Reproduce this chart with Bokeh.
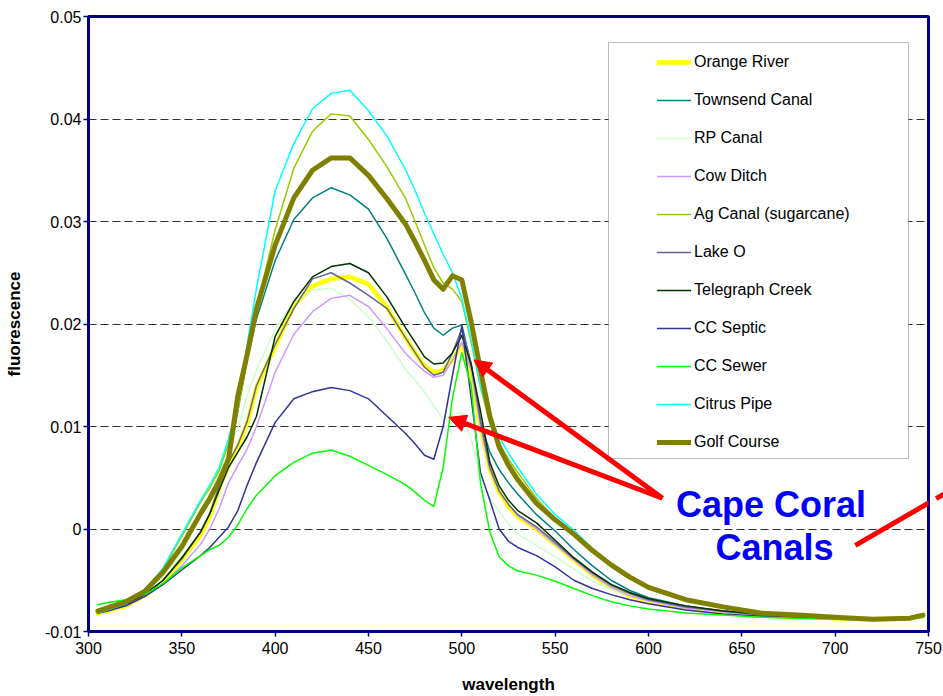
from bokeh.plotting import figure
from bokeh.models import (Legend, LegendItem, BoxAnnotation, Label, Arrow, NormalHead,
                          FixedTicker, Range1d)
from bokeh.embed import file_html
from bokeh.resources import INLINE

# ---------------- data ----------------
wavelength = [305, 310, 320, 330, 340, 350, 360, 365, 370, 375, 380, 385, 390, 400, 410, 420,
              430, 440, 450, 460, 470, 475, 480, 485, 490, 495, 500, 505, 510, 515, 520, 525,
              530, 540, 550, 560, 570, 580, 590, 600, 620, 640, 660, 680, 700, 720, 740, 747]

orange_river = [-0.0082, -0.0080, -0.0075, -0.0065, -0.0052, -0.0030, -0.0006, 0.0012, 0.0040, 0.0062,
                0.0080, 0.0103, 0.0138, 0.0178, 0.0218, 0.0237, 0.0244, 0.0246, 0.0239, 0.0216,
                0.0186, 0.0172, 0.0159, 0.0153, 0.0155, 0.0165, 0.0180, 0.0152, 0.0100, 0.0058,
                0.0036, 0.0022, 0.0012, 0.0000, -0.0015, -0.0030, -0.0045, -0.0057, -0.0065, -0.0070,
                -0.0077, -0.0081, -0.0084, -0.0086, -0.0087, -0.0088, -0.0087, -0.0085]

townsend_canal = [-0.0081, -0.0078, -0.0072, -0.0062, -0.0045, -0.0020, 0.0012, 0.0027, 0.0043, 0.0065,
                  0.0115, 0.0165, 0.0205, 0.0262, 0.0302, 0.0323, 0.0333, 0.0326, 0.0312, 0.0283,
                  0.0248, 0.0230, 0.0211, 0.0196, 0.0189, 0.0196, 0.0199, 0.0160, 0.0105, 0.0075,
                  0.0058, 0.0045, 0.0034, 0.0014, -0.0002, -0.0020, -0.0036, -0.0050, -0.0060, -0.0067,
                  -0.0075, -0.0080, -0.0083, -0.0085, -0.0087, -0.0088, -0.0087, -0.0085]

rp_canal = [-0.0081, -0.0079, -0.0073, -0.0062, -0.0046, -0.0022, 0.0012, 0.0032, 0.0055, 0.0075,
            0.0098, 0.0130, 0.0155, 0.0195, 0.0222, 0.0233, 0.0235, 0.0224, 0.0207, 0.0183,
            0.0155, 0.0145, 0.0134, 0.0120, 0.0107, 0.0111, 0.0114, 0.0087, 0.0052, 0.0030,
            0.0017, 0.0005, -0.0005, -0.0016, -0.0027, -0.0039, -0.0051, -0.0059, -0.0065, -0.0070,
            -0.0077, -0.0081, -0.0084, -0.0086, -0.0087, -0.0088, -0.0087, -0.0085]

cow_ditch = [-0.0082, -0.0080, -0.0075, -0.0066, -0.0054, -0.0036, -0.0015, 0.0000, 0.0020, 0.0045,
             0.0062, 0.0078, 0.0100, 0.0153, 0.0190, 0.0212, 0.0225, 0.0228, 0.0217, 0.0195,
             0.0171, 0.0162, 0.0154, 0.0148, 0.0150, 0.0165, 0.0182, 0.0155, 0.0100, 0.0058,
             0.0037, 0.0024, 0.0013, 0.0000, -0.0015, -0.0030, -0.0045, -0.0057, -0.0065, -0.0070,
             -0.0077, -0.0081, -0.0084, -0.0086, -0.0087, -0.0088, -0.0087, -0.0085]

ag_canal = [-0.0081, -0.0078, -0.0072, -0.0061, -0.0040, -0.0007, 0.0026, 0.0040, 0.0057, 0.0083,
            0.0115, 0.0165, 0.0215, 0.0292, 0.0352, 0.0388, 0.0405, 0.0403, 0.0380, 0.0353,
            0.0322, 0.0300, 0.0277, 0.0255, 0.0240, 0.0234, 0.0222, 0.0182, 0.0138, 0.0103,
            0.0084, 0.0068, 0.0055, 0.0030, 0.0010, -0.0005, -0.0022, -0.0036, -0.0048, -0.0057,
            -0.0070, -0.0077, -0.0082, -0.0085, -0.0086, -0.0087, -0.0087, -0.0085]

lake_o = [-0.0082, -0.0080, -0.0074, -0.0064, -0.0050, -0.0029, -0.0003, 0.0015, 0.0042, 0.0065,
          0.0082, 0.0105, 0.0140, 0.0180, 0.0215, 0.0244, 0.0250, 0.0240, 0.0228, 0.0215,
          0.0186, 0.0172, 0.0158, 0.0150, 0.0153, 0.0172, 0.0195, 0.0162, 0.0105, 0.0060,
          0.0037, 0.0024, 0.0014, 0.0002, -0.0013, -0.0029, -0.0043, -0.0055, -0.0063, -0.0069,
          -0.0076, -0.0080, -0.0084, -0.0086, -0.0087, -0.0088, -0.0087, -0.0085]

telegraph_creek = [-0.0081, -0.0079, -0.0073, -0.0064, -0.0050, -0.0028, -0.0003, 0.0015, 0.0038, 0.0060,
                   0.0075, 0.0090, 0.0110, 0.0188, 0.0222, 0.0246, 0.0256, 0.0259, 0.0250, 0.0226,
                   0.0196, 0.0182, 0.0168, 0.0161, 0.0162, 0.0172, 0.0189, 0.0160, 0.0115, 0.0065,
                   0.0042, 0.0028, 0.0018, 0.0006, -0.0011, -0.0028, -0.0042, -0.0054, -0.0062, -0.0068,
                   -0.0075, -0.0080, -0.0083, -0.0085, -0.0087, -0.0088, -0.0087, -0.0085]

cc_septic = [-0.0082, -0.0080, -0.0075, -0.0066, -0.0054, -0.0040, -0.0026, -0.0018, -0.0008, 0.0002,
             0.0018, 0.0043, 0.0065, 0.0104, 0.0127, 0.0134, 0.0138, 0.0135, 0.0127, 0.0110,
             0.0093, 0.0083, 0.0072, 0.0068, 0.0100, 0.0150, 0.0198, 0.0128, 0.0055, 0.0028,
             0.0000, -0.0012, -0.0018, -0.0026, -0.0037, -0.0050, -0.0058, -0.0064, -0.0069, -0.0073,
             -0.0079, -0.0083, -0.0085, -0.0086, -0.0087, -0.0088, -0.0087, -0.0085]

cc_sewer = [-0.0074, -0.0072, -0.0069, -0.0064, -0.0053, -0.0038, -0.0026, -0.0020, -0.0016, -0.0008,
            0.0004, 0.0020, 0.0033, 0.0052, 0.0065, 0.0074, 0.0077, 0.0071, 0.0062, 0.0053,
            0.0043, 0.0036, 0.0028, 0.0022, 0.0060, 0.0128, 0.0172, 0.0140, 0.0045, -0.0003,
            -0.0027, -0.0036, -0.0041, -0.0045, -0.0051, -0.0058, -0.0065, -0.0071, -0.0075, -0.0078,
            -0.0082, -0.0084, -0.0086, -0.0087, -0.0088, -0.0089, -0.0088, -0.0086]

citrus_pipe = [-0.0082, -0.0079, -0.0073, -0.0060, -0.0038, -0.0005, 0.0028, 0.0043, 0.0060, 0.0088,
               0.0122, 0.0180, 0.0235, 0.0330, 0.0376, 0.0410, 0.0425, 0.0428, 0.0408, 0.0383,
               0.0350, 0.0330, 0.0308, 0.0288, 0.0268, 0.0250, 0.0225, 0.0185, 0.0140, 0.0108,
               0.0090, 0.0074, 0.0060, 0.0034, 0.0014, -0.0001, -0.0019, -0.0034, -0.0046, -0.0056,
               -0.0069, -0.0077, -0.0082, -0.0085, -0.0086, -0.0087, -0.0087, -0.0084]

golf_course = [-0.0080, -0.0077, -0.0071, -0.0061, -0.0042, -0.0017, 0.0015, 0.0030, 0.0047, 0.0068,
               0.0130, 0.0170, 0.0215, 0.0277, 0.0323, 0.0350, 0.0362, 0.0362, 0.0345, 0.0322,
               0.0297, 0.0280, 0.0262, 0.0243, 0.0234, 0.0247, 0.0243, 0.0202, 0.0155, 0.0110,
               0.0080, 0.0062, 0.0048, 0.0025, 0.0009, -0.0005, -0.0021, -0.0035, -0.0047, -0.0057,
               -0.0069, -0.0076, -0.0082, -0.0084, -0.0086, -0.0088, -0.0087, -0.0084]

series_names = ["Orange River", "Townsend Canal", "RP Canal", "Cow Ditch", "Ag Canal (sugarcane)",
                "Lake O", "Telegraph Creek", "CC Septic", "CC Sewer", "Citrus Pipe", "Golf Course"]
series_values = [orange_river, townsend_canal, rp_canal, cow_ditch, ag_canal, lake_o,
                 telegraph_creek, cc_septic, cc_sewer, citrus_pipe, golf_course]

x_ticks = [300, 350, 400, 450, 500, 550, 600, 650, 700, 750]
x_tick_labels = ["300", "350", "400", "450", "500", "550", "600", "650", "700", "750"]
y_ticks = [-0.01, 0.0, 0.01, 0.02, 0.03, 0.04, 0.05]
y_tick_labels = ["-0.01", "0", "0.01", "0.02", "0.03", "0.04", "0.05"]

annotation_text = ["Cape Coral", "Canals"]
# annotation anchor points in data units (wavelength, fluorescence)
text_anchor = [(665.6, 0.0024), (667.5, -0.0018)]
arrows = [((607.5, 0.0030), (506.5, 0.0165)),
          ((607.5, 0.0030), (493.0, 0.0109)),
          ((710.8, -0.0016), (762.0, 0.0038))]

# ---------------- styling ----------------
colors = ["#FFFF00", "#008080", "#CCFFCC", "#CC99FF", "#99CC00", "#666699",
          "#003300", "#333399", "#00FF00", "#00FFFF", "#808000"]
widths = [4.5, 1.5, 1.5, 1.5, 1.5, 1.5, 1.5, 1.5, 1.5, 1.5, 5]
FONT = "Liberation Sans"

W, H = 943, 696
L, R, T, B = 88, 15, 16, 65
x0, x1 = 300, 750
y0, y1 = -0.01, 0.05

p = figure(width=W, height=H, x_range=Range1d(x0, x1), y_range=Range1d(y0, y1),
           output_backend="svg", toolbar_location=None,
           min_border_left=L, min_border_right=R, min_border_top=T, min_border_bottom=B)
p.background_fill_color = "white"
p.border_fill_color = "white"
p.outline_line_color = "#000080"
p.outline_line_width = 3

p.xgrid.visible = False
p.ygrid.grid_line_color = "#333333"
p.ygrid.grid_line_dash = "8 4"
p.ygrid.grid_line_width = 1

p.xaxis.ticker = FixedTicker(ticks=x_ticks)
p.xaxis.major_label_overrides = dict(zip(x_ticks, x_tick_labels))
p.yaxis.ticker = FixedTicker(ticks=y_ticks)
p.yaxis.major_label_overrides = dict(zip(y_ticks, y_tick_labels))

for ax in (p.xaxis, p.yaxis):
    ax.axis_line_color = "#000080"
    ax.axis_line_width = 2
    ax.major_tick_line_color = "#000080"
    ax.major_tick_line_width = 1.5
    ax.major_tick_out = 5
    ax.major_tick_in = 0
    ax.minor_tick_line_color = None
    ax.major_label_text_font = FONT
    ax.major_label_text_font_size = "16px"
    ax.major_label_text_color = "black"
    ax.axis_label_text_font = FONT
    ax.axis_label_text_font_size = "17px"
    ax.axis_label_text_font_style = "bold"
    ax.axis_label_text_color = "black"

p.xaxis.axis_label = "wavelength"
p.yaxis.axis_label = "fluorescence"
p.xaxis.major_label_standoff = 5
p.xaxis.axis_label_standoff = 18
p.yaxis.major_label_standoff = 2
p.yaxis.axis_label_standoff = 18

renderers = []
for name, vals, c, w in zip(series_names, series_values, colors, widths):
    r = p.line(wavelength, vals, line_color=c, line_width=w, line_join="round", line_cap="round")
    renderers.append(r)

# legend frame (white box)
def px_to_x(px):
    return x0 + (px - L) / (W - L - R) * (x1 - x0)

def py_to_y(py):
    return y1 - (py - T) / (H - T - B) * (y1 - y0)

frame = BoxAnnotation(left=px_to_x(608), right=px_to_x(908), top=py_to_y(42), bottom=py_to_y(458),
                      fill_color="white", fill_alpha=1.0, line_color="#222222", line_width=1)
p.add_layout(frame)

legend = Legend(items=[LegendItem(label=n, renderers=[r]) for n, r in zip(series_names, renderers)],
                location=(559, 169))
legend.background_fill_alpha = 0
legend.border_line_alpha = 0
legend.label_text_font = FONT
legend.label_text_font_size = "16px"
legend.label_text_color = "black"
legend.glyph_width = 34
legend.glyph_height = 20
legend.label_height = 20
legend.label_standoff = 3
legend.spacing = 18
legend.padding = 10
legend.margin = 0
p.add_layout(legend)

for (ax_, ay_), (bx_, by_) in arrows:
    p.add_layout(Arrow(end=NormalHead(size=17, fill_color="#FF0000", line_color="#FF0000"),
                       x_start=ax_, y_start=ay_, x_end=bx_, y_end=by_,
                       line_color="#FF0000", line_width=5))

for txt, (tx, ty) in zip(annotation_text, text_anchor):
    p.add_layout(Label(x=tx, y=ty, text=txt, text_font=FONT, text_font_size="36px",
                       text_font_style="bold", text_color="#0000FF",
                       text_align="center", text_baseline="alphabetic"))

open("out.html", "w").write(file_html(p, INLINE))
